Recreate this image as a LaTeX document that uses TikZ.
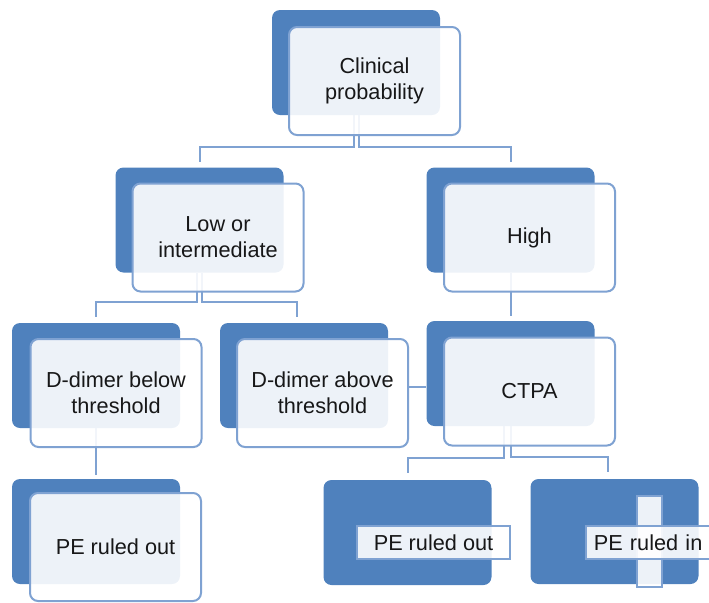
\documentclass[tikz,border=0pt]{standalone}
\usepackage{fontspec}
\setmainfont{Liberation Sans}
\usetikzlibrary{positioning,calc,backgrounds}
\definecolor{stageblue}{HTML}{4F81BD}
\definecolor{rimblue}{HTML}{7FA2D2}
\tikzset{
  % boxes
  stageback/.style={rounded corners=4pt,fill=stageblue,inner sep=0pt,
                    minimum width=84pt,minimum height=52.5pt},
  stagefront/.style={rounded corners=4pt,fill=white,fill opacity=0.9,draw=rimblue,
                     line width=1pt,inner sep=0pt,minimum width=85.5pt,minimum height=54pt,
                     align=center,font=\fontsize{10.85pt}{13pt}\selectfont},
  plate/.style={fill=white,fill opacity=0.9,draw=rimblue,line width=0.8pt,
                inner sep=0pt,minimum height=16.5pt,
                font=\fontsize{10.85pt}{13pt}\selectfont},
  plusbar/.style={fill=white,fill opacity=0.9,draw=rimblue,line width=0.8pt,
                  inner sep=0pt,minimum width=12.5pt,minimum height=45.5pt},
  % links
  link/.style={draw=rimblue,line width=1pt},
}
\begin{document}
\begin{tikzpicture}[x=0.5pt,y=-0.5pt]
\clip (0,0) rectangle (709,602);
  % clinical probability
  \node[stageback] (clinb) at (356,62.5) {};
  \node[stagefront] (clin) at (374.5,81) {Clinical\\probability};
  % low / high
  \node[stageback] (lowb) at (199.5,220) {};
  \node[stagefront] (low) at (218,237.5) {Low or\\intermediate};
  \node[stageback] (highb) at (510.5,220) {};
  \node[stagefront] (high) at (529.5,237.5) {High};
  % d-dimer and ctpa
  \node[stageback] (dbelowb) at (96,375.5) {};
  \node[stagefront] (dbelow) at (116,393) {D-dimer below\\threshold};
  \node[stageback] (daboveb) at (304,375.5) {};
  \node[stagefront] (dabove) at (322.5,393) {D-dimer above\\threshold};
  \node[stageback] (ctpab) at (510.5,373.5) {};
  \node[stagefront] (ctpa) at (529.5,391.5) {CTPA};
  % outcomes
  \node[stageback] (outlb) at (96,531.5) {};
  \node[stagefront] (outl) at (115.5,547) {PE ruled out};
  \node[stageback] (outr) at (407.5,532.5) {};
  \node[plate,minimum width=76.5pt] (outrtag) at (433.5,542.5) {PE ruled out};
  \node[stageback] (inr) at (614.5,531.5) {};
  \node[plusbar] (inrbar) at (649.5,541.5) {};
  \node[plate,anchor=west,inner xsep=4pt,text width=62pt,align=left] (inrtag) at (585,542.5) {PE ruled in};
  \coordinate (ctpaport) at ($(ctpab.west)+(0,13.5)$);
  \begin{scope}[on background layer]
    \draw[link] ($(clinb.south)+(-2.5,0)$) |- ($(lowb.north)+(0,-20)$) -- ($(lowb.north)+(0,-5)$);
    \draw[link] ($(clinb.south)+(2.5,0)$) |- ($(highb.north)+(0,-20)$) -- ($(highb.north)+(0,-5)$);
    \draw[link] ($(lowb.south)+(-3,0)$) |- ($(dbelowb.north)+(0,-21)$) -- ($(dbelowb.north)+(0,-6)$);
    \draw[link] ($(lowb.south)+(2,0)$) |- ($(daboveb.north)+(-7,-21)$) -- ($(daboveb.north)+(-7,-6)$);
    \draw[link] (highb.south) -- ($(ctpab.north)+(0,-5)$);
    \draw[link] (dabove.east |- ctpaport) -- (ctpaport);
    \draw[link] (dbelowb.south) -- ($(outlb.north)+(0,-4)$);
    \draw[link] ($(ctpab.south)+(-7,0)$) |- ($(outr.north)+(0,-22)$) -- ($(outr.north)+(0,-7)$);
    \draw[link] (ctpab.south) |- ($(inr.north)+(-7,-22)$) -- ($(inr.north)+(-7,-7)$);
  \end{scope}
\end{tikzpicture}
\end{document}
